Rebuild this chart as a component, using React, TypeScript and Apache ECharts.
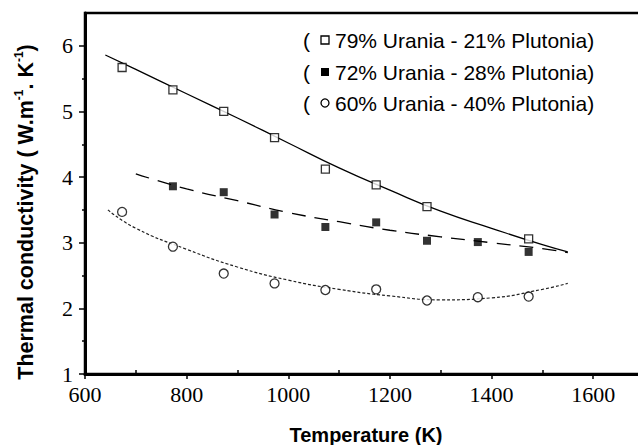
import React, { useEffect, useRef } from "react";
import * as echarts from "echarts";

// ---- data ----
const temps = [673, 773, 873, 973, 1073, 1173, 1273, 1373, 1473];
const u79 = [5.67, 5.33, 5.0, 4.6, 4.12, 3.88, 3.55, null, 3.06];
const u72 = [null, 3.86, 3.77, 3.43, 3.24, 3.31, 3.03, 3.01, 2.86];
const u60 = [3.47, 2.94, 2.53, 2.38, 2.28, 2.29, 2.12, 2.17, 2.18];

const fitT79 = [640, 700, 800, 900, 1000, 1100, 1200, 1300, 1400, 1500, 1550];
const fit79 = [5.86, 5.64, 5.27, 4.9, 4.52, 4.14, 3.8, 3.48, 3.22, 2.97, 2.86];
const fitT72 = [700, 800, 900, 1000, 1100, 1200, 1300, 1400, 1500, 1550];
const fit72 = [4.05, 3.82, 3.64, 3.46, 3.32, 3.19, 3.09, 3.0, 2.91, 2.85];
const fitT60 = [645, 700, 800, 900, 1000, 1100, 1200, 1300, 1400, 1500, 1550];
const fit60 = [3.5, 3.22, 2.9, 2.63, 2.43, 2.29, 2.19, 2.13, 2.16, 2.29, 2.38];

const seriesNames = [
  "79% Urania - 21% Plutonia)",
  "72% Urania - 28% Plutonia)",
  "60% Urania - 40% Plutonia)",
];

const xMajor = [600, 800, 1000, 1200, 1400, 1600];
const xMinor = [700, 900, 1100, 1300, 1500, 1700];
const yMajor = [1, 2, 3, 4, 5, 6];
const yMinor = [1.5, 2.5, 3.5, 4.5, 5.5];

const xTitle = "Temperature (K)";

const pairs = (xs: number[], ys: (number | null)[]) =>
  xs.map((x, i) => [x, ys[i]]).filter((p) => p[1] !== null);

export default function App() {
  const ref = useRef<HTMLDivElement>(null);
  useEffect(() => {
    const chart = echarts.init(ref.current!, null, { renderer: "svg" });
    const black = "#000";
    const serif = "serif";
    const sans = "Liberation Sans";
    const legendY = [40, 72, 103];
    const legendSymbols: any[] = [
      { type: "rect", shape: { x: 321, y: legendY[0] - 4, width: 8, height: 8 }, style: { fill: "#fff", stroke: black, lineWidth: 1.3 } },
      { type: "rect", shape: { x: 321, y: legendY[1] - 4, width: 8, height: 8 }, style: { fill: black } },
      { type: "circle", shape: { cx: 325, cy: legendY[2], r: 4 }, style: { fill: "#fff", stroke: black, lineWidth: 1.3 } },
    ];
    const legendGraphics: any[] = [];
    seriesNames.forEach((name, i) => {
      legendGraphics.push({
        type: "text",
        x: 303,
        y: legendY[i],
        style: { text: "(", fontFamily: sans, fontSize: 21, fill: black, textVerticalAlign: "middle" },
      });
      legendGraphics.push(legendSymbols[i]);
      legendGraphics.push({
        type: "text",
        x: 335,
        y: legendY[i],
        style: { text: name, fontFamily: sans, fontSize: 21, fill: black, textVerticalAlign: "middle" },
      });
    });

    const option: any = {
      animation: false,
      backgroundColor: "#fff",
      grid: {
        left: 85,
        top: 13,
        width: 559,
        height: 361,
        show: true,
        borderColor: black,
        borderWidth: 2.5,
        backgroundColor: "transparent",
        containLabel: false,
        outerBoundsMode: "none",
      },
      xAxis: [
        {
          type: "value",
          min: 600,
          max: 1700,
          interval: 200,
          position: "bottom",
          axisLine: { show: true, lineStyle: { color: black, width: 3 } },
          axisTick: { show: true, inside: false, length: 5, customValues: xMajor, lineStyle: { color: black, width: 1.5 } },
          axisLabel: {
            show: true,
            margin: 9,
            fontFamily: serif,
            fontSize: 22,
            color: black,
            showMaxLabel: false,
            formatter: (v: number) => (xMajor.indexOf(v) >= 0 ? String(v) : ""),
          },
          splitLine: { show: false },
        },
        {
          type: "value",
          min: 600,
          max: 1700,
          position: "bottom",
          axisLine: { show: false },
          axisTick: { show: true, inside: true, length: 4, customValues: xMinor, lineStyle: { color: black, width: 1.5 } },
          axisLabel: { show: false },
          splitLine: { show: false },
        },
      ],
      yAxis: [
        {
          type: "value",
          min: 1,
          max: 6.5,
          interval: 1,
          position: "left",
          axisLine: { show: true, lineStyle: { color: black, width: 3 } },
          axisTick: { show: true, inside: false, length: 6, customValues: yMajor, lineStyle: { color: black, width: 1.5 } },
          axisLabel: {
            show: true,
            margin: 12,
            fontFamily: serif,
            fontSize: 22,
            color: black,
            showMaxLabel: false,
            formatter: (v: number) => (yMajor.indexOf(v) >= 0 ? String(v) : ""),
          },
          splitLine: { show: false },
        },
        {
          type: "value",
          min: 1,
          max: 6.5,
          position: "left",
          axisLine: { show: false },
          axisTick: { show: true, inside: false, length: 3, customValues: yMinor, lineStyle: { color: black, width: 1.5 } },
          axisLabel: { show: false },
          splitLine: { show: false },
        },
      ],
      series: [
        {
          type: "line",
          data: pairs(fitT79, fit79),
          smooth: true,
          showSymbol: false,
          lineStyle: { color: black, width: 1.3, type: "solid" },
          z: 2,
        },
        {
          type: "line",
          data: pairs(fitT72, fit72),
          smooth: true,
          showSymbol: false,
          lineStyle: { color: black, width: 1.3, type: [14, 9] },
          z: 2,
        },
        {
          type: "line",
          data: pairs(fitT60, fit60),
          smooth: true,
          showSymbol: false,
          lineStyle: { color: "#222", width: 1.2, type: [3, 2] },
          z: 2,
        },
        {
          type: "scatter",
          name: seriesNames[0],
          data: pairs(temps, u79),
          symbol: "rect",
          symbolSize: 8,
          itemStyle: { color: "#fff", borderColor: black, borderWidth: 1.3 },
          z: 5,
        },
        {
          type: "scatter",
          name: seriesNames[1],
          data: pairs(temps, u72),
          symbol: "rect",
          symbolSize: 8,
          itemStyle: { color: black },
          z: 5,
        },
        {
          type: "scatter",
          name: seriesNames[2],
          data: pairs(temps, u60),
          symbol: "circle",
          symbolSize: 9,
          itemStyle: { color: "#fff", borderColor: black, borderWidth: 1.3 },
          z: 5,
        },
      ],
      graphic: [
        ...legendGraphics,
        {
          type: "text",
          x: 366,
          y: 435,
          style: {
            text: xTitle,
            fontFamily: sans,
            fontWeight: "bold",
            fontSize: 20,
            fill: black,
            textAlign: "center",
            textVerticalAlign: "middle",
          },
        },
        {
          type: "text",
          x: 25,
          y: 212,
          rotation: Math.PI / 2,
          style: {
            text: "{b|Thermal conductivity ( W.m}{s|-1}{b|. K}{s|-1}{b|)}",
            textAlign: "center",
            textVerticalAlign: "middle",
            fill: black,
            rich: {
              b: { fontFamily: sans, fontWeight: "bold", fontSize: 21.5, fill: black, verticalAlign: "bottom", lineHeight: 24 },
              s: { fontFamily: sans, fontWeight: "bold", fontSize: 12, fill: black, verticalAlign: "top", lineHeight: 24 },
            },
          },
        },
      ],
    };
    chart.setOption(option);
    return () => chart.dispose();
  }, []);
  return (
    <div
      ref={ref}
      style={{ position: "fixed", left: 0, top: 0, width: 638, height: 445, background: "#fff" }}
    />
  );
}
